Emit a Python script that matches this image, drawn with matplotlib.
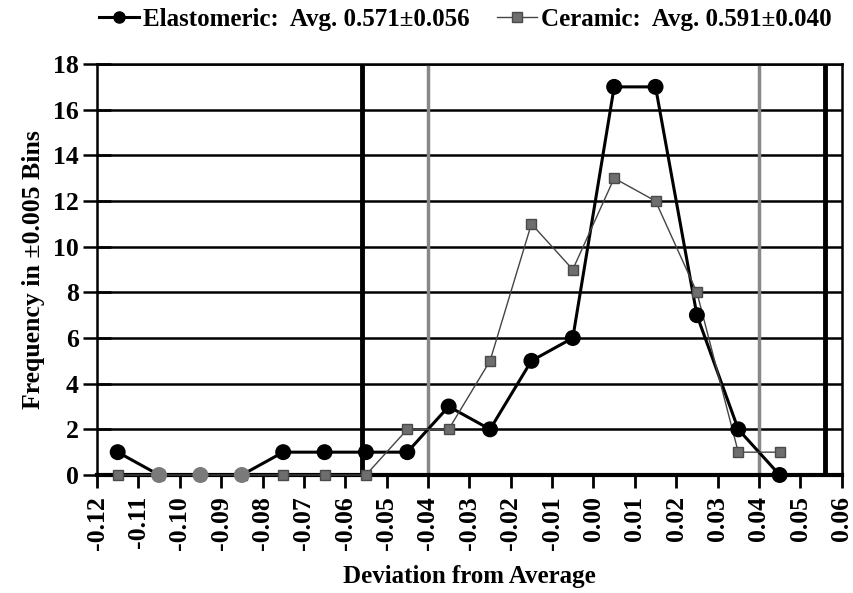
import matplotlib.pyplot as plt
import numpy as np

# bin centres (deviation from average)
bins = [-0.115, -0.105, -0.095, -0.085, -0.075, -0.065, -0.055, -0.045, -0.035,
        -0.025, -0.015, -0.005, 0.005, 0.015, 0.025, 0.035, 0.045]
elastomeric = [1, 0, 0, 0, 1, 1, 1, 1, 3, 2, 5, 6, 17, 17, 7, 2, 0]
ceramic = [0, 0, 0, 0, 0, 0, 0, 2, 2, 5, 11, 9, 13, 12, 8, 1, 1]

elast_label = "Elastomeric:  Avg. 0.571\u00b10.056"
ceram_label = "Ceramic:  Avg. 0.591\u00b10.040"
elast_sd = 0.056
ceram_sd = 0.040

plt.rcParams["font.family"] = ["Liberation Serif", "DejaVu Serif"]
plt.rcParams["font.weight"] = "bold"

fig = plt.figure(figsize=(8.54, 5.93), dpi=100)
ax = fig.add_axes([0.1136, 0.199, 0.872, 0.693])

# horizontal grid
for y in range(2, 19, 2):
    ax.axhline(y, color="black", lw=1.8, zorder=1)

# limit lines
ax.axvline(-elast_sd, color="black", lw=3.5, zorder=2)
ax.axvline(elast_sd, color="black", lw=3.5, zorder=2)
ax.axvline(-ceram_sd, color="#888888", lw=2.5, zorder=2)
ax.axvline(ceram_sd, color="#888888", lw=2.5, zorder=2)

# ceramic underneath where both are zero -> circle looks gray there
ax.plot(bins, ceramic, color="#444444", lw=1.0, marker="s", ms=7,
        mfc="#6e6e6e", mec="#4a4a4a", label=ceram_label, zorder=4, clip_on=False)
ax.plot(bins, elastomeric, color="black", lw=2.2, zorder=3, clip_on=False)
both_zero = [(e == 0 and c == 0) for e, c in zip(elastomeric, ceramic)]
face = ["#7a7a7a" if z else "black" for z in both_zero]
ax.scatter(bins, elastomeric, s=110, c=face, edgecolors=face, zorder=5, clip_on=False)
ax.plot([], [], color="black", lw=2.2, marker="o", ms=8, label=elast_label)

ticks = np.round(np.arange(-0.12, 0.0601, 0.01), 2)
ax.set_xlim(-0.12, 0.06)
ax.set_ylim(0, 18)
ax.set_xticks(ticks)
ax.set_xticklabels(["%.2f" % (v + 0.0) for v in ticks],
                   rotation=90, fontsize=18.5, fontweight="bold")
ax.set_yticks(range(0, 19, 2))
ax.set_yticklabels([str(v) for v in range(0, 19, 2)], fontsize=18.5, fontweight="bold")
ax.tick_params(axis="x", direction="out", length=9, width=2, pad=6)
ax.tick_params(axis="y", direction="inout", length=20, width=1.8, pad=3)

for s in ax.spines.values():
    s.set_linewidth(1.8)
ax.spines["bottom"].set_linewidth(3)

ax.set_xlabel("Deviation from Average", fontsize=18, fontweight="bold", labelpad=11)
ax.set_ylabel("Frequency in \u00b10.005 Bins", fontsize=18.5, fontweight="bold", labelpad=6)

h, l = ax.get_legend_handles_labels()
fig.legend([h[1], h[0]], [l[1], l[0]], loc="upper center", bbox_to_anchor=(0.545, 1.025),
           ncol=2, frameon=False, handlelength=1.6, handletextpad=0.15,
           columnspacing=1.1, prop={"weight": "bold", "size": 18})

fig.savefig("out.png", dpi=100)
